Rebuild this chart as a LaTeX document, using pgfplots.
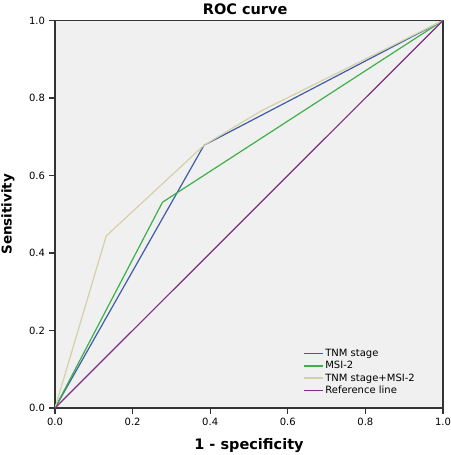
\documentclass[border=0pt]{standalone}
\usepackage{fontspec}
\setmainfont{DejaVu Sans}
\usepackage{pgfplots}
\pgfplotsset{compat=1.18}
\definecolor{bgc}{HTML}{F0F0F0}
\definecolor{axc}{HTML}{333333}
\definecolor{tnm}{HTML}{3F5CA8}
\definecolor{msi}{HTML}{3DB04A}
\definecolor{comb}{HTML}{D4D1A6}
\definecolor{refl}{HTML}{7B2E80}
\begin{document}
\begin{tikzpicture}
\begin{axis}[
  scale only axis, width=388pt, height=387.5pt,
  xmin=0, xmax=1, ymin=0, ymax=1,
  axis background/.style={fill=bgc},
  axis line style={axc, line width=1.3pt},
  xtick={0,0.2,...,1.0}, ytick={0,0.2,...,1.0},
  tick align=outside, major tick length=5.5pt,
  tick style={axc, line width=1.3pt},
  xtick pos=bottom, ytick pos=left,
  /pgf/number format/assume math mode=true,
  /pgf/number format/.cd, fixed, fixed zerofill, precision=1, /pgfplots/.cd,
  tick label style={font=\fontsize{10}{12}\selectfont, text=black},
  xticklabel style={yshift=-1.5pt},
  yticklabel style={xshift=-1pt},
  title={\bfseries ROC curve},
  title style={font=\fontsize{14.5}{16}\selectfont, at={(axis description cs:0.49,1.0145)}, anchor=center},
  xlabel={\bfseries 1 - specificity},
  xlabel style={font=\fontsize{14.5}{16}\selectfont, at={(axis description cs:0.5,-0.096)}, anchor=center},
  ylabel={\bfseries Sensitivity},
  ylabel style={font=\fontsize{13.5}{15}\selectfont, at={(axis description cs:-0.121,0.5)}, anchor=center, rotate=0},
  legend style={draw=none, fill=none, at={(rel axis cs:0.638,0.158)}, anchor=north west,
    font=\fontsize{10}{12}\selectfont, row sep=-0.5pt, inner sep=0pt},
  legend cell align=left,
  legend image code/.code={\draw[#1, line width=1.6pt] (0pt,0pt) -- (19pt,0pt);},
]
\coordinate (bl) at (rel axis cs:0,0);
\coordinate (tr) at (rel axis cs:1,1);
\addplot[tnm, line width=1.2pt] coordinates {(0,0) (0.384,0.678) (1,1)};
\addlegendentry{TNM stage}
\addplot[msi, line width=1.2pt] coordinates {(0,0) (0.277,0.531) (1,1)};
\addlegendentry{MSI-2}
\addplot[comb, line width=1.2pt] coordinates {(0,0) (0.132,0.444) (0.384,0.678) (0.53,0.766) (1,1)};
\addlegendentry{TNM stage+MSI-2}
\addplot[refl, line width=1.2pt] coordinates {(0,0) (1,1)};
\addlegendentry{Reference line}
\end{axis}
\pgfresetboundingbox
\path ([shift={(-55pt,-47pt)}]bl) rectangle ([shift={(8pt,20.5pt)}]tr);
\end{tikzpicture}
\end{document}
